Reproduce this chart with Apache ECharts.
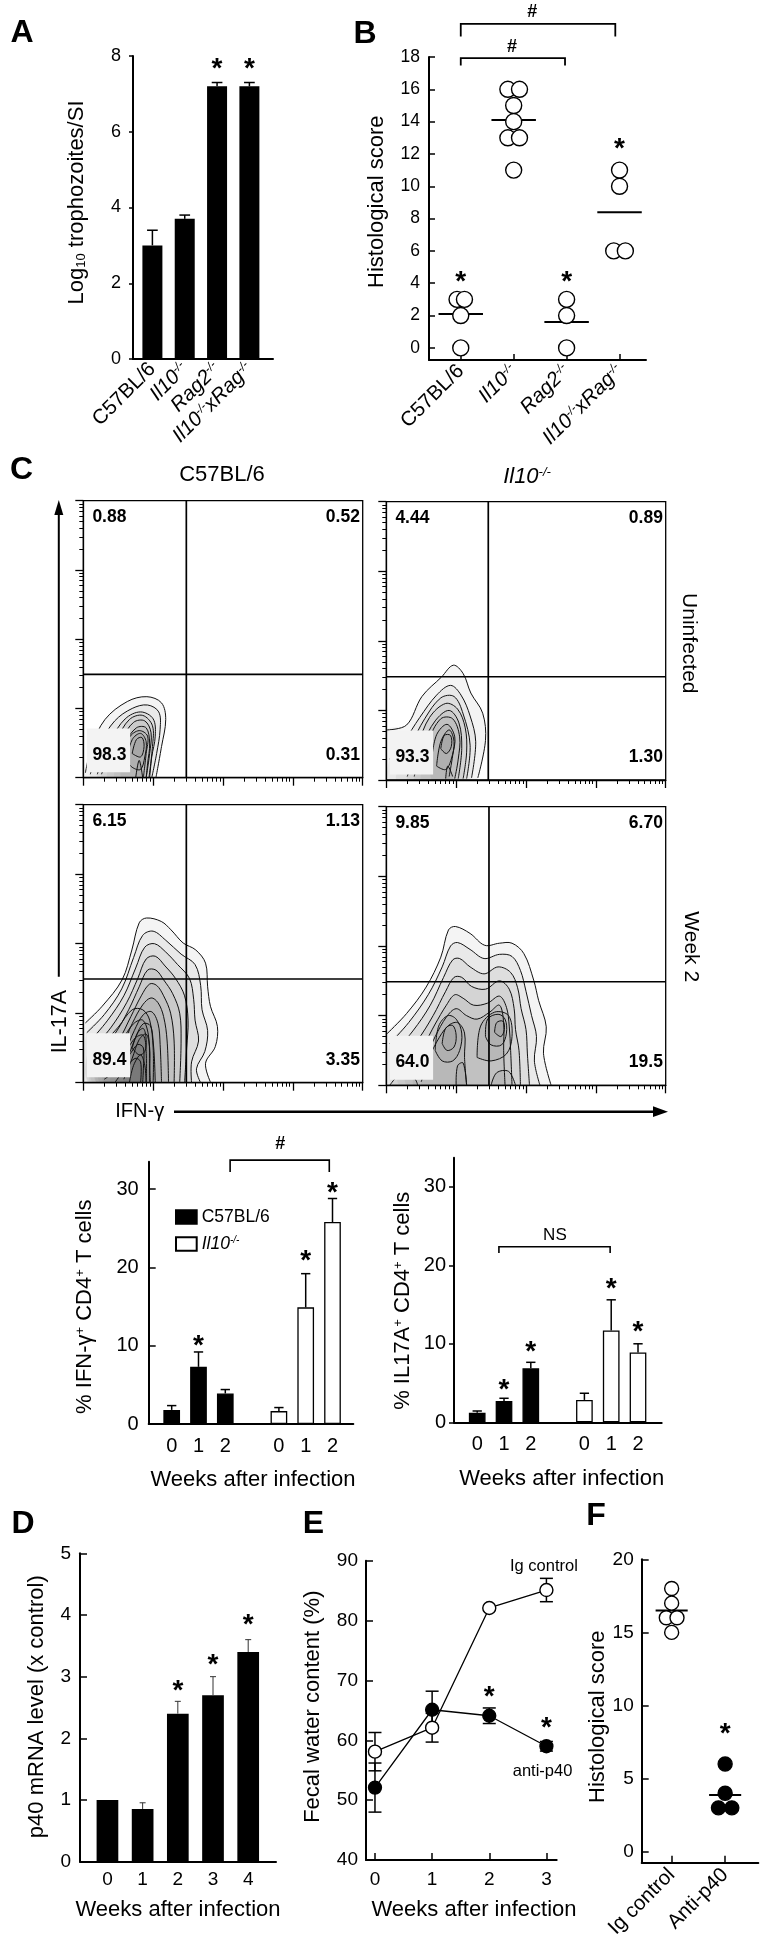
<!DOCTYPE html>
<html><head><meta charset="utf-8">
<script src="https://cdn.jsdelivr.net/npm/echarts@6/dist/echarts.min.js"></script>
<style>html,body{margin:0;padding:0;background:#fff}#c{width:766px;height:1950px}</style>
</head><body><div id="c"></div>
<script>
// ================= DATA =================
// Panel A
const A_strains = ['C57BL/6', 'Il10-/-', 'Rag2-/-', 'Il10-/-xRag-/-'];
const A_log10 = [3.0, 3.7, 7.2, 7.2];
const A_sem = [0.4, 0.1, 0.1, 0.1];
const A_stars = [[2, 7.8], [3, 7.8]];
// Panel B
const B_strains = ['C57BL/6', 'Il10-/-', 'Rag2-/-', 'Il10-/-xRag-/-'];
const B_C57 = [3, 3, 2, 0];
const B_Il10 = [16, 16, 15, 14, 13, 13, 11];
const B_Rag2 = [3, 2, 0];
const B_IlxRag = [11, 10, 6, 6];
const B_means = [2.1, 14.1, 1.6, 8.4];
const B_stars = [[0, 4.4], [2, 4.4], [3, 12.65]];
const B_brackets = [[0, 1.97, 17.93, 17.47], [0, 2.92, 20.05, 19.27]];
const B_bracketText = [[0.97, 18.6], [1.35, 20.8]];
// Panel C flow (quadrant %: UL, UR, LL, LR)
const Q_C57_uninf = ['0.88', '0.52', '98.3', '0.31'];
const Q_Il10_uninf = ['4.44', '0.89', '93.3', '1.30'];
const Q_C57_wk2 = ['6.15', '1.13', '89.4', '3.35'];
const Q_Il10_wk2 = ['9.85', '6.70', '64.0', '19.5'];
const GATE_C57_uninf = [1.475, 1.493];
const GATE_Il10_uninf = [1.46, 1.484];
const GATE_C57_wk2 = [1.475, 1.492];
const GATE_Il10_wk2 = [1.47, 1.487];
const CONT_C57_uninf = [
 [[0.03,0.07],[0.12,0.45],[0.31,0.84],[0.63,1.10],[0.91,1.17],[1.12,1.08],[1.18,0.84],[1.12,0.45],[1.04,0.0]],
 [[0.1,0.05],[0.25,0.5],[0.45,0.82],[0.7,1.0],[0.92,1.05],[1.08,0.95],[1.1,0.7],[1.05,0.35],[0.98,0.0]],
 [[0.2,0.05],[0.4,0.55],[0.6,0.85],[0.82,0.95],[1.0,0.85],[1.03,0.6],[0.98,0.3],[0.95,0.0]],
 [[0.26,0.05],[0.48,0.55],[0.66,0.84],[0.85,0.9],[0.99,0.75],[0.99,0.45],[0.94,0.0]],
 [[0.35,0.1],[0.55,0.55],[0.72,0.8],[0.88,0.82],[0.97,0.65],[0.95,0.35],[0.9,0.0]],
 [[0.45,0.1],[0.6,0.5],[0.76,0.72],[0.9,0.72],[0.95,0.5],[0.92,0.2],[0.9,0.0]],
 [[0.55,0.2],[0.66,0.58],[0.8,0.68],[0.92,0.6],[0.9,0.35],[0.86,0.0]],
 [[0.62,0.25],[0.7,0.55],[0.82,0.64],[0.9,0.52],[0.88,0.3],[0.82,0.12],[0.7,0.15],[0.62,0.25]],
 [[0.7,0.35],[0.76,0.55],[0.84,0.58],[0.87,0.45],[0.82,0.3],[0.7,0.35]],
 [[0.75,0.0],[0.8,0.25],[0.85,0.0]]
];
const CONT_Il10_uninf = [
 [[0.01,0.72],[0.29,0.79],[0.51,1.20],[0.79,1.48],[0.96,1.65],[1.10,1.53],[1.21,1.25],[1.38,0.96],[1.42,0.57],[1.31,0.03]],
 [[0.05,0.3],[0.25,0.55],[0.48,0.9],[0.72,1.22],[0.92,1.36],[1.07,1.22],[1.2,0.92],[1.28,0.55],[1.22,0.03]],
 [[0.15,0.1],[0.35,0.5],[0.55,0.88],[0.78,1.18],[0.97,1.2],[1.1,0.95],[1.2,0.5],[1.15,0.02]],
 [[0.3,0.05],[0.45,0.5],[0.62,0.9],[0.85,1.1],[1.02,1.02],[1.13,0.75],[1.15,0.4],[1.1,0.02]],
 [[0.4,0.05],[0.52,0.5],[0.7,0.85],[0.9,1.0],[1.04,0.82],[1.08,0.45],[1.03,0.02]],
 [[0.5,0.1],[0.6,0.55],[0.78,0.88],[0.95,0.88],[1.05,0.62],[1.03,0.3],[0.98,0.02]],
 [[0.65,0.3],[0.72,0.65],[0.87,0.8],[0.98,0.62],[0.95,0.35],[0.9,0.05]],
 [[0.72,0.2],[0.78,0.55],[0.9,0.72],[0.97,0.55],[0.93,0.3],[0.85,0.15],[0.72,0.2]],
 [[0.78,0.45],[0.83,0.64],[0.92,0.64],[0.93,0.48],[0.86,0.38],[0.78,0.45]],
 [[0.85,0.02],[0.88,0.2],[0.95,0.05]]
];
const CONT_C57_wk2 = [
 [[0.03,0.86],[0.27,1.10],[0.555,1.48],[0.695,1.91],[0.80,2.30],[0.905,2.37],[1.116,2.32],[1.255,2.20],[1.43,2.01],[1.61,1.91],[1.75,1.72],[1.78,1.38],[1.82,1.10],[1.92,0.81],[1.89,0.52],[1.75,0.28],[1.82,0.01]],
 [[0.05,0.72],[0.3,0.98],[0.55,1.35],[0.72,1.8],[0.85,2.12],[1.0,2.18],[1.18,2.05],[1.4,1.85],[1.6,1.7],[1.68,1.4],[1.7,1.05],[1.78,0.75],[1.74,0.45],[1.62,0.2],[1.68,0.0]],
 [[0.1,0.6],[0.35,0.9],[0.58,1.25],[0.75,1.65],[0.88,1.95],[1.02,2.0],[1.18,1.88],[1.35,1.7],[1.52,1.5],[1.58,1.2],[1.6,0.9],[1.65,0.6],[1.55,0.3],[1.55,0.0]],
 [[0.15,0.5],[0.4,0.8],[0.62,1.15],[0.78,1.5],[0.9,1.78],[1.03,1.82],[1.17,1.68],[1.32,1.5],[1.45,1.25],[1.5,0.9],[1.48,0.5],[1.45,0.0]],
 [[0.2,0.4],[0.45,0.7],[0.65,1.05],[0.8,1.38],[0.92,1.62],[1.04,1.62],[1.15,1.48],[1.28,1.28],[1.38,1.0],[1.4,0.6],[1.38,0.0]],
 [[0.25,0.3],[0.5,0.6],[0.68,0.95],[0.83,1.25],[0.95,1.42],[1.05,1.4],[1.15,1.25],[1.25,1.0],[1.3,0.6],[1.3,0.0]],
 [[0.3,0.2],[0.55,0.52],[0.7,0.85],[0.85,1.12],[0.97,1.22],[1.07,1.15],[1.15,0.95],[1.2,0.6],[1.22,0.0]],
 [[0.08,0.5],[0.3,0.6],[0.5,0.8],[0.7,1.05],[0.85,1.05],[0.95,0.9],[1.0,0.5],[1.0,0.0]],
 [[0.4,0.12],[0.6,0.45],[0.73,0.75],[0.86,0.98],[0.98,1.02],[1.07,0.85],[1.1,0.55],[1.12,0.0]],
 [[0.12,0.35],[0.35,0.45],[0.55,0.62],[0.72,0.85],[0.85,0.9],[0.93,0.7],[0.95,0.35],[0.95,0.0]],
 [[0.5,0.1],[0.65,0.4],[0.76,0.68],[0.86,0.85],[0.96,0.82],[1.0,0.6],[1.02,0.3],[1.03,0.0]],
 [[0.2,0.2],[0.4,0.3],[0.6,0.45],[0.75,0.65],[0.86,0.68],[0.9,0.45],[0.9,0.0]],
 [[0.58,0.05],[0.7,0.35],[0.8,0.62],[0.9,0.7],[0.95,0.5],[0.95,0.2],[0.96,0.0]],
 [[0.3,0.05],[0.5,0.2],[0.66,0.4],[0.78,0.55],[0.86,0.5],[0.86,0.2],[0.85,0.0]],
 [[0.7,0.5],[0.78,0.72],[0.86,0.78],[0.9,0.62],[0.88,0.45],[0.8,0.4],[0.7,0.5]],
 [[0.45,0.0],[0.6,0.2],[0.74,0.35],[0.82,0.3],[0.82,0.0]],
 [[0.66,0.0],[0.72,0.25],[0.82,0.4],[0.88,0.25],[0.9,0.0]]
];
const CONT_Il10_wk2 = [
 [[0.01,0.74],[0.29,1.03],[0.57,1.41],[0.78,1.84],[0.89,2.23],[0.99,2.28],[1.20,2.18],[1.41,2.01],[1.62,2.04],[1.80,2.04],[1.97,1.89],[2.11,1.51],[2.18,1.22],[2.29,0.84],[2.25,0.46],[2.36,0.0]],
 [[0.05,0.6],[0.32,0.9],[0.6,1.3],[0.8,1.7],[0.92,2.0],[1.02,2.05],[1.2,1.95],[1.4,1.82],[1.62,1.88],[1.8,1.85],[1.92,1.65],[2.0,1.35],[2.08,1.0],[2.15,0.7],[2.12,0.35],[2.2,0.0]],
 [[0.1,0.45],[0.38,0.78],[0.63,1.15],[0.82,1.55],[0.95,1.8],[1.05,1.82],[1.2,1.7],[1.4,1.6],[1.6,1.7],[1.78,1.62],[1.88,1.4],[1.93,1.1],[2.0,0.8],[2.02,0.45],[2.05,0.0]],
 [[0.2,0.35],[0.45,0.65],[0.67,1.0],[0.85,1.35],[0.97,1.55],[1.08,1.55],[1.22,1.42],[1.42,1.38],[1.62,1.5],[1.76,1.38],[1.83,1.1],[1.85,0.8],[1.9,0.5],[1.92,0.0]],
 [[0.3,0.25],[0.52,0.55],[0.7,0.88],[0.86,1.15],[0.98,1.3],[1.1,1.25],[1.25,1.15],[1.45,1.18],[1.62,1.28],[1.72,1.12],[1.76,0.85],[1.78,0.5],[1.8,0.0]],
 [[0.4,0.15],[0.58,0.45],[0.7,0.7],[0.86,0.98],[1.0,1.1],[1.15,1.0],[1.3,0.95],[1.48,1.05],[1.62,1.15],[1.68,0.9],[1.68,0.5],[1.7,0.0]],
 [[0.5,0.05],[0.62,0.4],[0.72,0.62],[0.88,0.85],[1.02,0.9],[1.12,0.75],[1.12,0.4],[1.15,0.0]],
 [[0.7,0.5],[0.75,0.85],[0.88,1.0],[1.0,0.95],[1.08,0.75],[1.05,0.5],[0.95,0.35],[0.8,0.35],[0.7,0.5]],
 [[0.8,0.6],[0.85,0.82],[0.95,0.86],[1.0,0.72],[0.97,0.55],[0.87,0.5],[0.8,0.6]],
 [[1.3,0.4],[1.35,0.85],[1.55,1.05],[1.75,1.0],[1.8,0.7],[1.72,0.45],[1.5,0.35],[1.3,0.4]],
 [[1.42,0.7],[1.45,0.95],[1.6,1.02],[1.7,0.95],[1.72,0.75],[1.65,0.58],[1.5,0.58],[1.42,0.7]],
 [[1.55,0.76],[1.58,0.9],[1.67,0.92],[1.69,0.8],[1.64,0.7],[1.55,0.76]],
 [[1.5,0.0],[1.58,0.18],[1.75,0.2],[1.85,0.0]],
 [[1.0,0.0],[1.02,0.28],[1.1,0.32],[1.15,0.0]],
 [[0.05,0.0],[0.2,0.15],[0.4,0.1],[0.45,0.0]]
];
// Panel C bars (weeks 0,1,2)
const C_weekLabels = ['0', '1', '2'];
const IFN_C57 = [1.8, 7.3, 3.9];
const IFN_C57_sem = [0.55, 1.9, 0.5];
const IFN_Il10 = [1.65, 14.9, 25.8];
const IFN_Il10_sem = [0.45, 4.3, 3.0];
const IFN_stars = [[1, 10.7], [5, 21.5], [6, 30.2]];
const IFN_bracket = [[2.18, 5.88, 33.7, 32.2]];
const IL17_C57 = [1.23, 2.72, 6.88];
const IL17_C57_sem = [0.21, 0.34, 0.76];
const IL17_Il10 = [2.85, 11.7, 8.9];
const IL17_Il10_sem = [0.85, 3.9, 1.1];
const IL17_stars = [[1, 4.76], [2, 9.64], [5, 17.7], [6, 12.2]];
const IL17_bracket = [[0.81, 4.96, 22.36, 21.56]];
// Panel D
const D_weeks = [0, 1, 2, 3, 4];
const D_p40 = [1.0, 0.855, 2.4, 2.7, 3.4];
const D_sem = [0, 0.1, 0.2, 0.3, 0.2];
const D_stars = [[2, 2.86], [3, 3.27], [4, 3.92]];
// Panel E
const E_weeks = [0, 1, 2, 3];
const E_ig = [58.1, 62.1, 82.1, 85.1];
const E_ig_sem = [3.2, 2.4, 0, 1.95];
const E_anti = [52.1, 65.1, 64.1, 59.0];
const E_anti_sem = [4.1, 3.1, 1.3, 0.8];
const E_stars = [[2, 68.2], [3, 62.9]];
// Panel F
const F_groups = ['Ig control', 'Anti-p40'];
const F_ig = [18, 17, 16, 16, 15];
const F_anti = [6, 4, 3, 3];
const F_means = [16.5, 3.88];
const F_stars = [[1, 8.4]];

// ================= LAYOUT / STYLE =================
const FONT = "'Liberation Sans', Arial, Helvetica, sans-serif";
const JIT = {
  B: [[-0.07, 0.07, 0, 0], [-0.11, 0.11, 0, 0, -0.11, 0.11, 0], [0, 0, 0], [0, 0, -0.11, 0.11]],
  F: [[0, 0, -0.1, 0.1, 0], [0, 0, -0.125, 0.125]]
};
const QPOS = [[0.13, 3.76], [3.96, 3.76], [0.13, 0.33], [3.96, 0.33]];
const FLOW_MINOR = [];
for (let d = 0; d < 4; d++) for (let k = 2; k <= 9; k++) FLOW_MINOR.push(d + Math.log10(k));

function RICH(size) {
  return {
    n: {fontSize: size, fontFamily: FONT, color: '#000'},
    i: {fontSize: size, fontFamily: FONT, color: '#000', fontStyle: 'italic'},
    s: {fontSize: Math.round(size * 0.58), fontFamily: FONT, color: '#000', fontStyle: 'italic', verticalAlign: 'top'},
    u: {fontSize: Math.round(size * 0.58), fontFamily: FONT, color: '#000', verticalAlign: 'top'},
    b: {fontSize: Math.round(size * 0.6), fontFamily: FONT, color: '#000', verticalAlign: 'bottom'}
  };
}
function geno(s) {
  if (s.indexOf('-/-') < 0) return '{n|' + s + '}';
  const parts = s.split('-/-');
  let out = '';
  for (let i = 0; i < parts.length; i++) {
    if (parts[i]) out += '{i|' + parts[i] + '}';
    if (i < parts.length - 1) out += '{s|-/-}';
  }
  return out;
}

const grids = [], xAxes = [], yAxes = [], series = [];
function addGrid(g) { grids.push(Object.assign({show: false, containLabel: false, outerBoundsMode: 'none'}, g)); return grids.length - 1; }
function addX(o) { xAxes.push(o); return xAxes.length - 1; }
function addY(o) { yAxes.push(o); return yAxes.length - 1; }
function valAxis(o) {
  const base = {type: 'value', splitLine: {show: false},
    axisLine: {show: true, onZero: false, lineStyle: {color: '#000', width: 2}},
    axisTick: {show: false}, axisLabel: {show: false}};
  return Object.assign(base, o);
}
function tick(len, inside, vals, w) {
  const t = {show: true, length: len, inside: inside, lineStyle: {color: '#000', width: w || 1.5}};
  if (vals) t.customValues = vals;
  return t;
}
function lab(size, margin, extra) {
  return Object.assign({show: true, fontSize: size, fontFamily: FONT, color: '#000', margin: margin}, extra || {});
}

function errBars(xi, yi, pts, opt) {
  return {type: 'custom', xAxisIndex: xi, yAxisIndex: yi, z: opt.z || 3, silent: true, clip: false, data: pts,
    renderItem: function (p, api) {
      const x = api.value(0), lo = api.value(1), hi = api.value(2);
      const a = api.coord([x, lo]), b = api.coord([x, hi]);
      const w = opt.cap / 2, st = {stroke: opt.color || '#000', lineWidth: opt.lw || 1.5};
      const ch = [
        {type: 'line', shape: {x1: a[0], y1: a[1], x2: b[0], y2: b[1]}, style: st},
        {type: 'line', shape: {x1: b[0] - w, y1: b[1], x2: b[0] + w, y2: b[1]}, style: st}];
      if (opt.both) ch.push({type: 'line', shape: {x1: a[0] - w, y1: a[1], x2: a[0] + w, y2: a[1]}, style: st});
      return {type: 'group', children: ch};
    }};
}
function texts(xi, yi, pts, labels, opt) {
  return {type: 'custom', xAxisIndex: xi, yAxisIndex: yi, z: opt.z || 6, silent: true, clip: false, data: pts,
    renderItem: function (p, api) {
      const c = api.coord([api.value(0), api.value(1)]);
      const al = Array.isArray(opt.align) ? opt.align[p.dataIndex] : (opt.align || 'center');
      return {type: 'text', x: c[0], y: c[1] + (opt.dy || 0), z2: 10,
        style: {text: labels[p.dataIndex], font: opt.font, fill: '#000', align: al, verticalAlign: 'middle'}};
    }};
}
function stars(xi, yi, pts, size) {
  const f = size || 28;
  return texts(xi, yi, pts, pts.map(() => '*'), {font: 'bold ' + f + 'px ' + FONT, dy: f * 0.2});
}
function meanLines(xi, yi, pts, half, lw) {
  return {type: 'custom', xAxisIndex: xi, yAxisIndex: yi, z: 4, silent: true, clip: false, data: pts,
    renderItem: function (p, api) {
      const x = api.value(0), y = api.value(1);
      const a = api.coord([x - half, y]), b = api.coord([x + half, y]);
      return {type: 'line', shape: {x1: a[0], y1: a[1], x2: b[0], y2: b[1]}, style: {stroke: '#000', lineWidth: lw || 2}};
    }};
}
function brackets(xi, yi, pts, lw) {
  return {type: 'custom', xAxisIndex: xi, yAxisIndex: yi, z: 4, silent: true, clip: false, data: pts,
    renderItem: function (p, api) {
      const x0 = api.value(0), x1 = api.value(1), yt = api.value(2), yl = api.value(3);
      const pts2 = [api.coord([x0, yl]), api.coord([x0, yt]), api.coord([x1, yt]), api.coord([x1, yl])];
      return {type: 'polyline', shape: {points: pts2}, style: {stroke: '#000', fill: null, lineWidth: lw || 1.6}};
    }};
}
function dots(xi, yi, vals, jit, x, size, filled) {
  return {type: 'scatter', xAxisIndex: xi, yAxisIndex: yi, z: 5, silent: true, symbol: 'circle', symbolSize: size,
    data: vals.map((v, i) => [x + jit[i], v]),
    itemStyle: {color: filled ? '#000' : '#fff', borderColor: '#000', borderWidth: 1.4, opacity: 1}};
}
function contours(xi, yi, conts) {
  return {type: 'custom', xAxisIndex: xi, yAxisIndex: yi, z: 2, silent: true, clip: true,
    data: conts.map(() => [0, 0]),
    renderItem: function (p, api) {
      const c = conts[p.dataIndex];
      const n = c.length;
      const closed = c[0][0] === c[n - 1][0] && c[0][1] === c[n - 1][1];
      const poly = c.slice();
      if (!closed) { poly.push([c[n - 1][0], 0]); poly.push([c[0][0], 0]); }
      return {type: 'group', children: [
        {type: 'polygon', shape: {points: poly.map(q => api.coord(q)), smooth: 0.3}, style: {fill: 'rgba(0,0,0,0.045)', stroke: null}},
        {type: 'polyline', shape: {points: c.map(q => api.coord(q)), smooth: 0.35}, style: {stroke: '#111', lineWidth: 1, fill: null}}
      ]};
    }};
}

// ---------- Panel A ----------
{
  const g = addGrid({left: 133, top: 56, width: 140, height: 303});
  const xi = addX(valAxis({gridIndex: g, position: 'bottom', min: -0.6, max: 3.73,
    axisLabel: lab(20.5, 7, {customValues: [0, 1, 2, 3], rotate: 45, formatter: v => geno(A_strains[Math.round(v)]), rich: RICH(20.5)})}));
  const yi = addY(valAxis({gridIndex: g, position: 'left', min: 0, max: 8, interval: 2,
    axisTick: tick(4, false), axisLabel: lab(18, 12)}));
  series.push({type: 'bar', name: 'A', xAxisIndex: xi, yAxisIndex: yi, barWidth: 20, silent: true,
    data: A_log10.map((v, i) => [i, v]), itemStyle: {color: '#000'}});
  series.push(errBars(xi, yi, A_log10.map((v, i) => [i, v, v + A_sem[i]]), {cap: 10.7, lw: 1.5}));
  series.push(stars(xi, yi, A_stars));
}
// ---------- Panel B ----------
{
  const g = addGrid({left: 429, top: 57, width: 217, height: 303});
  const xi = addX(valAxis({gridIndex: g, position: 'bottom', min: -0.6, max: 3.5,
    axisTick: tick(6, true, [0, 1, 2, 3]),
    axisLabel: lab(20.5, 8, {customValues: [0, 1, 2, 3], rotate: 45, formatter: v => geno(B_strains[Math.round(v)]), rich: RICH(20.5)})}));
  const yi = addY(valAxis({gridIndex: g, position: 'left', min: -0.75, max: 18,
    axisTick: tick(6, true, [0, 2, 4, 6, 8, 10, 12, 14, 16, 18]),
    axisLabel: lab(17.5, 9, {customValues: [0, 2, 4, 6, 8, 10, 12, 14, 16, 18]})}));
  [B_C57, B_Il10, B_Rag2, B_IlxRag].forEach((arr, k) => series.push(dots(xi, yi, arr, JIT.B[k], k, 16, false)));
  series.push(meanLines(xi, yi, B_means.map((m, k) => [k, m]), 0.42, 2));
  series.push(stars(xi, yi, B_stars));
  series.push(brackets(xi, yi, B_brackets, 1.8));
  series.push(texts(xi, yi, B_bracketText, ['#', '#'], {font: 'bold 18px ' + FONT}));
}
// ---------- Panel C flow plots ----------
const FLOW = [
  {grid: {left: 83.3, top: 500.7, width: 279.4, height: 277}, gate: GATE_C57_uninf, q: Q_C57_uninf, cont: CONT_C57_uninf},
  {grid: {left: 386.3, top: 501.7, width: 279.4, height: 278.3}, gate: GATE_Il10_uninf, q: Q_Il10_uninf, cont: CONT_Il10_uninf},
  {grid: {left: 83.3, top: 804.7, width: 279.4, height: 278}, gate: GATE_C57_wk2, q: Q_C57_wk2, cont: CONT_C57_wk2},
  {grid: {left: 386.3, top: 806.7, width: 279.4, height: 278.6}, gate: GATE_Il10_wk2, q: Q_Il10_wk2, cont: CONT_Il10_wk2}
];
FLOW.forEach(f => {
  const g = addGrid(Object.assign({show: true, borderColor: '#000', borderWidth: 1.3, backgroundColor: 'transparent'}, f.grid));
  const xm = addX({gridIndex: g, type: 'value', position: 'bottom', min: 0, max: 4, splitLine: {show: false},
    axisLine: {show: true, onZero: false, lineStyle: {color: '#000', width: 1.3}}, axisTick: tick(4, false, FLOW_MINOR, 1), axisLabel: {show: false}});
  addX({gridIndex: g, type: 'value', position: 'bottom', min: 0, max: 4, splitLine: {show: false},
    axisLine: {show: false, onZero: false}, axisTick: tick(8, false, [0, 1, 2, 3, 4], 1.3), axisLabel: {show: false}});
  const ym = addY({gridIndex: g, type: 'value', position: 'left', min: 0, max: 4, splitLine: {show: false},
    axisLine: {show: true, onZero: false, lineStyle: {color: '#000', width: 1.3}}, axisTick: tick(4, false, FLOW_MINOR, 1), axisLabel: {show: false}});
  addY({gridIndex: g, type: 'value', position: 'left', min: 0, max: 4, splitLine: {show: false},
    axisLine: {show: false, onZero: false}, axisTick: tick(8, false, [0, 1, 2, 3, 4], 1.3), axisLabel: {show: false}});
  series.push(contours(xm, ym, f.cont));
  series.push({type: 'custom', xAxisIndex: xm, yAxisIndex: ym, z: 4, silent: true, clip: false, data: [f.gate],
    renderItem: function (p, api) {
      const gx = api.value(0), gy = api.value(1);
      const v1 = api.coord([gx, 0]), v2 = api.coord([gx, 4]), h1 = api.coord([0, gy]), h2 = api.coord([4, gy]);
      const b1 = api.coord([0.05, 0.08]), b2 = api.coord([0.67, 0.71]);
      const st = {stroke: '#000', lineWidth: 1.7};
      return {type: 'group', children: [
        {type: 'rect', shape: {x: b1[0], y: b2[1], width: b2[0] - b1[0], height: b1[1] - b2[1]}, style: {fill: '#f3f3f3'}},
        {type: 'line', shape: {x1: v1[0], y1: v1[1], x2: v2[0], y2: v2[1]}, style: st},
        {type: 'line', shape: {x1: h1[0], y1: h1[1], x2: h2[0], y2: h2[1]}, style: st}]};
    }});
  series.push(texts(xm, ym, QPOS, f.q, {font: 'bold 17.5px ' + FONT, align: ['left', 'right', 'left', 'right']}));
});
// ---------- Panel C bar charts ----------
function cBars(gridBox, xr, ymax, c57, c57s, il, ils, st, br, brText, yTickInside) {
  const g = addGrid(gridBox);
  const xi = addX(valAxis({gridIndex: g, position: 'bottom', min: xr[0], max: xr[1],
    axisLabel: lab(20, 12, {customValues: [0, 1, 2, 4, 5, 6], formatter: v => C_weekLabels[Math.round(v) % 4]})}));
  const yi = addY(valAxis({gridIndex: g, position: 'left', min: 0, max: ymax,
    axisTick: tick(yTickInside ? 7 : 5, yTickInside, [0, 10, 20, 30]),
    axisLabel: lab(20, yTickInside ? 10 : 8, {customValues: [0, 10, 20, 30]})}));
  series.push({type: 'bar', name: 'C57BL/6', xAxisIndex: xi, yAxisIndex: yi, barWidth: 16.7, barGap: '-100%', silent: true,
    data: c57.map((v, i) => [i, v]), itemStyle: {color: '#000', borderColor: '#000', borderWidth: 1.3}});
  series.push({type: 'bar', name: 'Il10-/-', xAxisIndex: xi, yAxisIndex: yi, barWidth: 16.7, barGap: '-100%', silent: true,
    data: il.map((v, i) => [i + 4, v]), itemStyle: {color: '#fff', borderColor: '#000', borderWidth: 1.3}});
  series.push(errBars(xi, yi, c57.map((v, i) => [i, v, v + c57s[i]]), {cap: 9.3, lw: 1.5}));
  series.push(errBars(xi, yi, il.map((v, i) => [i + 4, v, v + ils[i]]), {cap: 9.3, lw: 1.5}));
  series.push(stars(xi, yi, st));
  series.push(brackets(xi, yi, br, 1.6));
  series.push(texts(xi, yi, [brText[0]], [brText[1]], {font: brText[2] + FONT}));
}
cBars({left: 148.7, top: 1161.7, width: 204.6, height: 262.3}, [-0.858, 6.776], 33.5,
  IFN_C57, IFN_C57_sem, IFN_Il10, IFN_Il10_sem, IFN_stars, IFN_bracket, [[4.05, 35.7], '#', 'bold 18px '], true);
cBars({left: 454, top: 1157.7, width: 207.7, height: 264.6}, [-0.866, 6.884], 33.7,
  IL17_C57, IL17_C57_sem, IL17_Il10, IL17_Il10_sem, IL17_stars, IL17_bracket, [[2.9, 23.85], 'NS', '17px '], false);
// ---------- Panel D ----------
{
  const g = addGrid({left: 80, top: 1553.3, width: 196, height: 308.4});
  const xi = addX(valAxis({gridIndex: g, position: 'bottom', min: -0.78, max: 4.79,
    axisLabel: lab(19, 9, {customValues: D_weeks})}));
  const yi = addY(valAxis({gridIndex: g, position: 'left', min: 0, max: 5, interval: 1,
    axisTick: tick(7, true), axisLabel: lab(19, 9)}));
  series.push({type: 'bar', name: 'D', xAxisIndex: xi, yAxisIndex: yi, barWidth: 21.7, silent: true,
    data: D_p40.map((v, i) => [D_weeks[i], v]), itemStyle: {color: '#000'}});
  series.push(errBars(xi, yi, D_p40.map((v, i) => [D_weeks[i], v, v + D_sem[i]]).filter((d, i) => D_sem[i] > 0), {cap: 6, lw: 1, color: '#333'}));
  series.push(stars(xi, yi, D_stars));
}
// ---------- Panel E ----------
{
  const g = addGrid({left: 366, top: 1560.7, width: 190.7, height: 299.3});
  const xi = addX(valAxis({gridIndex: g, position: 'bottom', min: -0.157, max: 3.18,
    axisTick: tick(7, true, E_weeks), axisLabel: lab(19, 10, {customValues: E_weeks})}));
  const yi = addY(valAxis({gridIndex: g, position: 'left', min: 40, max: 90, interval: 10,
    axisTick: tick(7, true), axisLabel: lab(19, 8)}));
  series.push(errBars(xi, yi, E_anti.map((v, i) => [E_weeks[i], v - E_anti_sem[i], v + E_anti_sem[i]]), {cap: 13, lw: 1.5, both: true, z: 1}));
  series.push(errBars(xi, yi, E_ig.map((v, i) => [E_weeks[i], v - E_ig_sem[i], v + E_ig_sem[i]]).filter((d, i) => E_ig_sem[i] > 0), {cap: 13, lw: 1.5, both: true, z: 1}));
  series.push({type: 'line', name: 'anti-p40', xAxisIndex: xi, yAxisIndex: yi, silent: true, z: 2,
    data: E_anti.map((v, i) => [E_weeks[i], v]), symbol: 'circle', symbolSize: 13, showSymbol: true,
    lineStyle: {color: '#000', width: 1.3}, itemStyle: {color: '#000', borderColor: '#000', borderWidth: 1.3, opacity: 1}});
  series.push({type: 'line', name: 'Ig control', xAxisIndex: xi, yAxisIndex: yi, silent: true, z: 2,
    data: E_ig.map((v, i) => [E_weeks[i], v]), symbol: 'circle', symbolSize: 13, showSymbol: true,
    lineStyle: {color: '#000', width: 1.3}, itemStyle: {color: '#fff', borderColor: '#000', borderWidth: 1.4, opacity: 1}});
  series.push(stars(xi, yi, E_stars));
}
// ---------- Panel F ----------
{
  const g = addGrid({left: 641.7, top: 1559.3, width: 116.6, height: 303.4});
  const xi = addX(valAxis({gridIndex: g, position: 'bottom', min: -0.56, max: 1.62,
    axisTick: tick(7, true, [0, 1]),
    axisLabel: lab(20.5, 9, {customValues: [0, 1], rotate: 45, formatter: v => F_groups[Math.round(v)]})}));
  const yi = addY(valAxis({gridIndex: g, position: 'left', min: -0.75, max: 20,
    axisTick: tick(7, true, [0, 5, 10, 15, 20]), axisLabel: lab(19, 8, {customValues: [0, 5, 10, 15, 20]})}));
  series.push(dots(xi, yi, F_ig, JIT.F[0], 0, 14, false));
  series.push(dots(xi, yi, F_anti, JIT.F[1], 1, 14, true));
  series.push(meanLines(xi, yi, F_means.map((m, k) => [k, m]), 0.3, 2));
  series.push(stars(xi, yi, F_stars));
}

// ---------- Text graphics (titles, panel letters, arrows) ----------
function T(x, y, text, size, opt) {
  opt = opt || {};
  const st = {text: text, font: (opt.bold ? 'bold ' : '') + (opt.italic ? 'italic ' : '') + size + 'px ' + FONT,
    fill: '#000', textAlign: opt.align || 'center', textVerticalAlign: 'middle'};
  if (opt.rich) st.rich = RICH(size);
  return {type: 'text', x: x, y: y, rotation: opt.rot || 0, style: st, silent: true};
}
const R90 = Math.PI / 2;
const graphics = [
  T(22, 33.3, 'A', 32, {bold: true}), T(365, 34.2, 'B', 32, {bold: true}), T(21.5, 470, 'C', 32, {bold: true}),
  T(23, 1524, 'D', 32, {bold: true}), T(313.3, 1524, 'E', 32, {bold: true}), T(596, 1516, 'F', 32, {bold: true}),
  T(76.7, 202.5, '{n|Log}{b|10}{n| trophozoites/SI}', 22, {rot: R90, rich: true}),
  T(376.7, 201.7, 'Histological score', 22, {rot: R90}),
  T(222, 475, 'C57BL/6', 22), T(527, 477, geno('Il10-/-'), 22, {rich: true}),
  T(688.7, 643.3, 'Uninfected', 21, {rot: -R90}), T(691, 946.7, 'Week 2', 21, {rot: -R90}),
  T(60, 1021.7, 'IL-17A', 21.5, {rot: R90}), T(139.7, 1111.7, 'IFN-γ', 20),
  T(85, 1306.7, '{n|% IFN-γ}{u|+}{n| CD4}{u|+}{n| T cells}', 22, {rot: R90, rich: true}),
  T(403, 1300.8, '{n|% IL17A}{u|+}{n| CD4}{u|+}{n| T cells}', 22, {rot: R90, rich: true}),
  T(253, 1480, 'Weeks after infection', 22), T(561.7, 1479, 'Weeks after infection', 22),
  T(36.7, 1706.7, 'p40 mRNA level (x control)', 22, {rot: R90}),
  T(178, 1910, 'Weeks after infection', 22),
  T(313.3, 1706.7, 'Fecal water content (%)', 22, {rot: R90}),
  T(474, 1910, 'Weeks after infection', 22),
  T(598.3, 1716.7, 'Histological score', 22, {rot: R90}),
  T(510, 1566.7, 'Ig control', 16.5, {align: 'left'}), T(512.7, 1771.7, 'anti-p40', 16.5, {align: 'left'}),
  {type: 'line', shape: {x1: 58.8, y1: 976.7, x2: 58.8, y2: 512}, style: {stroke: '#000', lineWidth: 2}, silent: true},
  {type: 'polygon', shape: {points: [[58.8, 500], [54.3, 515], [63.3, 515]]}, style: {fill: '#000'}, silent: true},
  {type: 'line', shape: {x1: 174, y1: 1111.7, x2: 656, y2: 1111.7}, style: {stroke: '#000', lineWidth: 2.5}, silent: true},
  {type: 'polygon', shape: {points: [[668, 1111.7], [653, 1106.3], [653, 1117.1]]}, style: {fill: '#000'}, silent: true}
];

const chart = echarts.init(document.getElementById('c'), null, {renderer: 'canvas'});
chart.setOption({
  animation: false,
  backgroundColor: '#fff',
  textStyle: {fontFamily: FONT, color: '#000'},
  grid: grids, xAxis: xAxes, yAxis: yAxes, series: series,
  legend: {left: 170, top: 1203, orient: 'vertical', itemWidth: 20.7, itemHeight: 13.4, itemGap: 9, icon: 'rect',
    selectedMode: false, data: ['C57BL/6', 'Il10-/-'], formatter: n => geno(n),
    textStyle: {fontSize: 17.5, fontFamily: FONT, color: '#000', rich: RICH(17.5)}},
  graphic: {elements: graphics}
});
</script>
</body></html>
